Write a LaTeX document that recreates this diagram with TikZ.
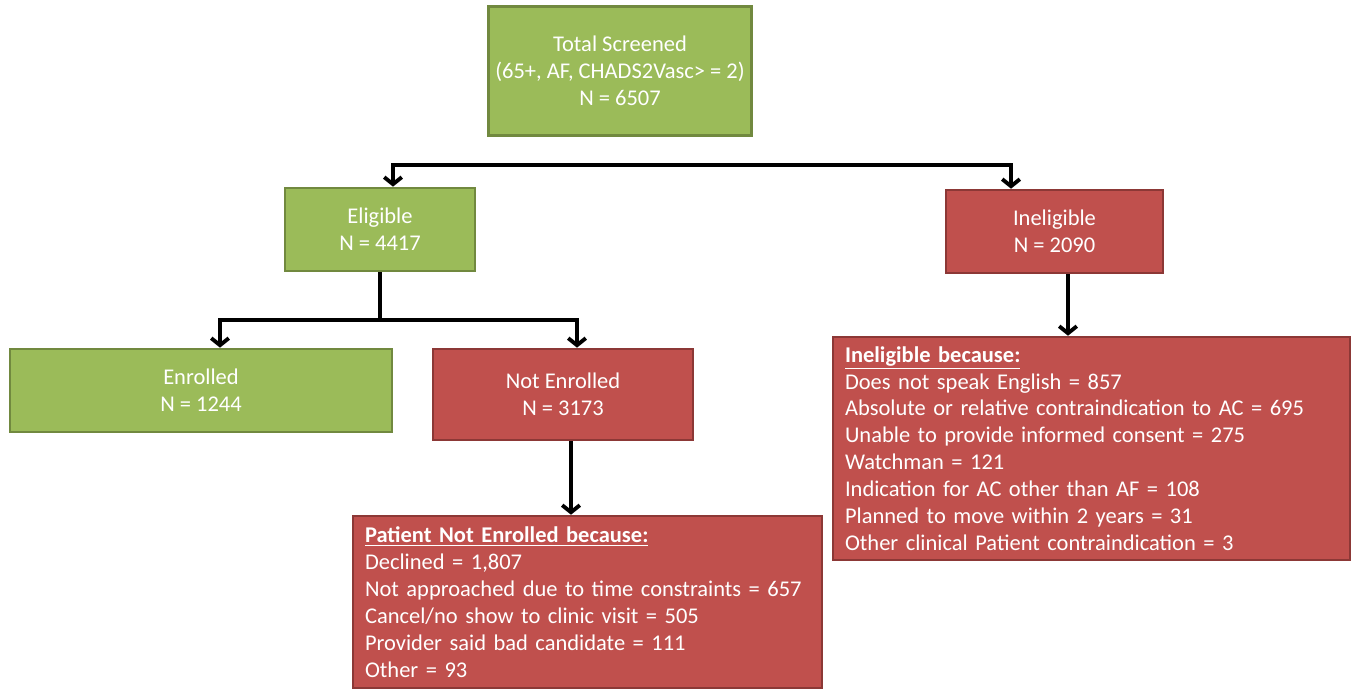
\documentclass[tikz,border=0pt]{standalone}
\usepackage{fontspec}
\setmainfont{Carlito}
\usetikzlibrary{arrows.meta, positioning, calc}
\definecolor{boxgreen}{HTML}{9BBB59}
\definecolor{boxgreenline}{HTML}{71893F}
\definecolor{boxred}{HTML}{C0504D}
\definecolor{boxredline}{HTML}{8C3836}

\begin{document}
\begin{tikzpicture}[x=0.02cm, y=-0.02cm]
        \tikzstyle{stage}=[draw, line width=1.5pt, text=white, align=center, inner sep=4pt, font=\fontsize{12.8}{15.3}\selectfont]
        \tikzstyle{pass}=[stage, fill=boxgreen, draw=boxgreenline]
        \tikzstyle{fail}=[stage, fill=boxred, draw=boxredline]
        \tikzstyle{reasons}=[fail, align=left, inner xsep=0.24cm]
        \tikzstyle{arrow}=[-{Straight Barb[length=4pt,width=10pt]}, line width=2.2pt]

        \useasboundingbox (0,0) rectangle (1356,690);

        \node[pass, minimum width=5.26cm, minimum height=2.58cm] (total) at (620,71) {Total Screened\\(65+, AF, CHADS2Vasc> = 2)\\N = 6507};
        \node[pass, minimum width=3.8cm, minimum height=1.66cm] (eligible) at (380,229.5) {Eligible\\N = 4417};
        \node[fail, minimum width=4.34cm, minimum height=1.66cm] (ineligible) at (1054.5,231.5) {Ineligible\\N = 2090};
        \node[pass, minimum width=7.64cm, minimum height=1.66cm] (enrolled) at (201,390.5) {Enrolled\\N = 1244};
        \node[fail, minimum width=5.2cm, minimum height=1.82cm] (notenrolled) at (563,394.5) {Not Enrolled\\N = 3173};

        \node[reasons, text width=8.9cm, minimum height=3.44cm] (nereasons) at (587.5,602) {\underline{\textbf{Patient Not Enrolled because:}}\\
            Declined = 1,807\\
            Not approached due to time constraints = 657\\
            Cancel/no show to clinic visit = 505\\
            Provider said bad candidate = 111\\
            Other = 93};
        \node[reasons, text width=9.86cm, minimum height=4.46cm] (iereasons) at (1091.5,448.5) {\underline{\textbf{Ineligible because:}}\\
            Does not speak English = 857\\
            Absolute or relative contraindication to AC = 695\\
            Unable to provide informed consent = 275\\
            Watchman = 121\\
            Indication for AC other than AF = 108\\
            Planned to move within 2 years = 31\\
            Other clinical Patient contraindication = 3};

        \coordinate (screenfork) at (702,165);
        \coordinate (eligfork) at (380,320);

        \draw[arrow] (screenfork) -| ([xshift=0.26cm]eligible.north);
        \draw[arrow] (screenfork) -| ([xshift=-0.87cm]ineligible.north);
        \draw[line width=2.2pt] (eligible.south) -- (eligfork);
        \draw[arrow] (eligfork) -| ([xshift=0.38cm]enrolled.north);
        \draw[arrow] (eligfork) -| ([xshift=0.28cm]notenrolled.north);
        \draw[arrow] ([xshift=0.16cm]notenrolled.south) -- ([xshift=0.16cm]notenrolled.south |- nereasons.north);
        \draw[arrow] ([xshift=0.27cm]ineligible.south) -- ([xshift=0.27cm]ineligible.south |- iereasons.north);
    \end{tikzpicture}
\end{document}
